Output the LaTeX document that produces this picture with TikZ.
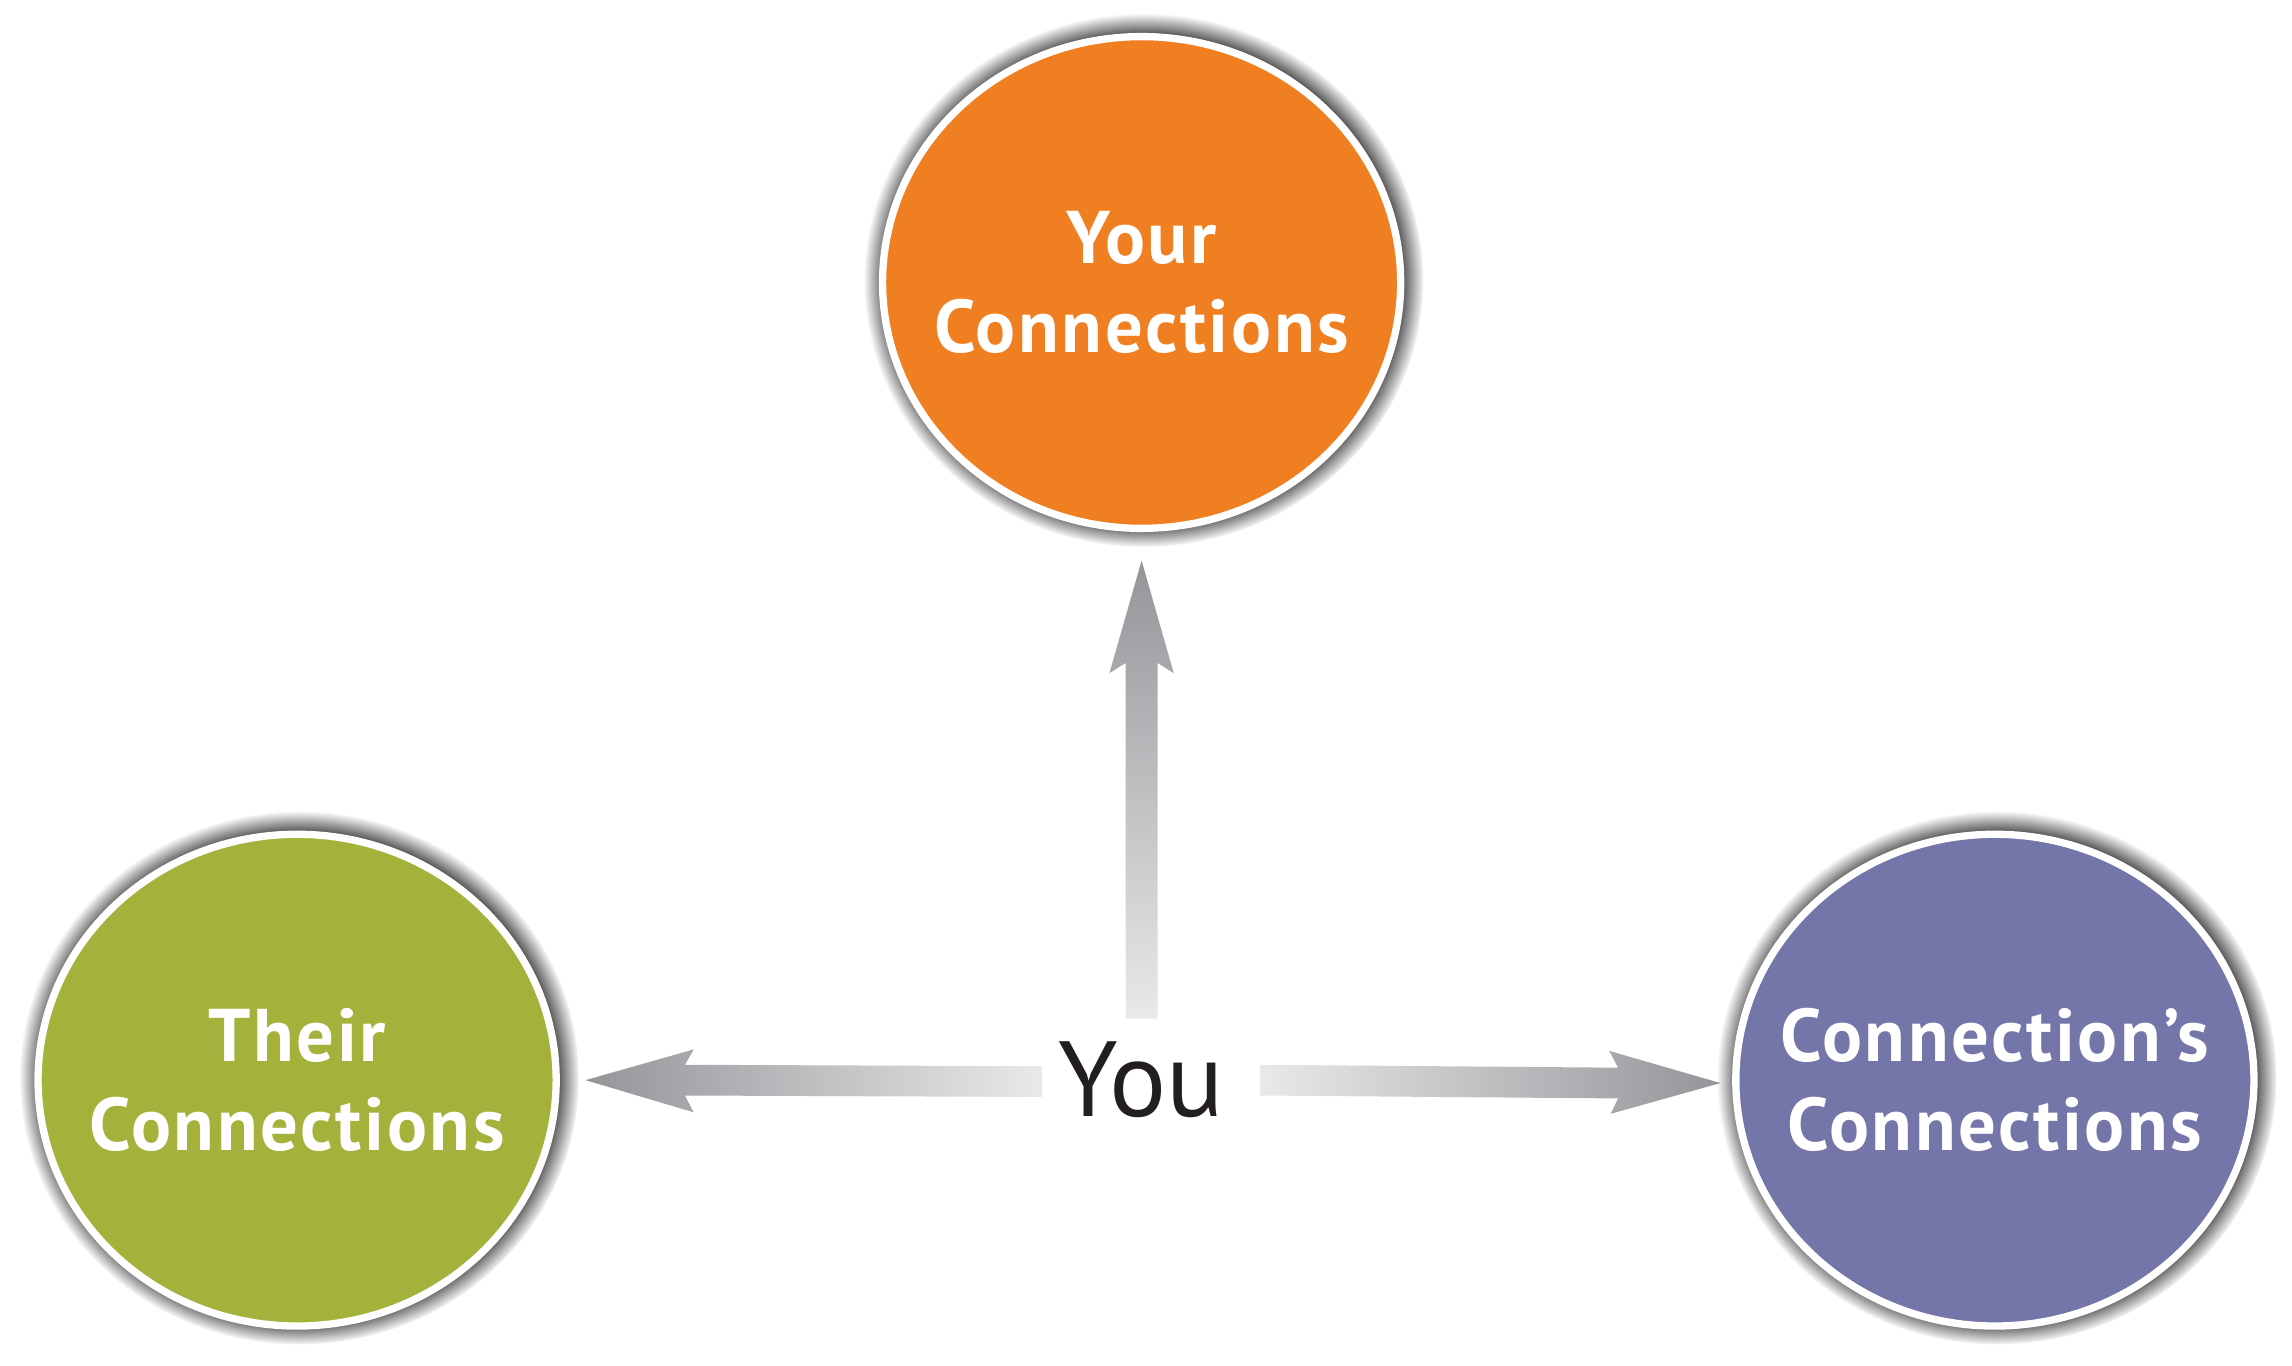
\documentclass[tikz,border=0pt]{standalone}
\usepackage{fontspec}
\setmainfont{PT Sans}
\usetikzlibrary{calc,shapes.geometric,fadings}
\definecolor{corange}{HTML}{F07F22}
\definecolor{cgreen}{HTML}{A4B23B}
\definecolor{cpurple}{HTML}{7475A8}
\definecolor{adark}{HTML}{939598}
\definecolor{alight}{HTML}{E8E9EA}
\definecolor{youink}{HTML}{231F20}
\begin{document}
\begin{tikzpicture}[x=1pt,y=-1pt,
  bubble/.style={ellipse, draw=white, line width=5pt, inner sep=0pt, outer sep=0pt,
    minimum width=354pt, minimum height=336pt},
  glow/.style={ellipse, fill=black!85, draw=none, inner sep=0pt,
    minimum width=382pt, minimum height=364pt,
    path fading=circle with fuzzy edge 10 percent},
  bubbletext/.style={text=white, align=center, inner sep=0pt,
    font=\fontsize{51}{61}\selectfont\bfseries\addfontfeature{LetterSpace=3.5}},
  youlabel/.style={inner sep=0pt, text=youink, font=\fontsize{73}{80}\selectfont},
  arrowbody/.style={draw=none}]
\useasboundingbox (0,0) rectangle (1566,933.3);
% shadows
\node[glow] (topS) at (781.5,191.5) {};
\node[glow] (leftS) at (204.5,736.5) {};
\node[glow] (rightS) at (1364.5,736.5) {};
% circles
\node[bubble, fill=corange] (top) at (780,193) {};
\node[bubble, fill=cgreen] (left) at (203,738) {};
\node[bubble, fill=cpurple] (right) at (1363,738) {};
\node[bubbletext] (topT) at (top.center) {Your\\Connections};
\node[bubbletext] (leftT) at (left.center) {Their\\Connections};
\node[bubbletext] (rightT) at (right.center) {Connection’s\\Connections};
\node[youlabel] (you) at (780,738) {You};
% arrow anchor points
\coordinate (t1) at ($(you.center)+(0,-42)$);
\coordinate (p1) at ($(top.south)+(0,22)$);
\coordinate (t2) at ($(you.center)+(-68,1)$);
\coordinate (p2) at ($(left.east)+(20,0)$);
\coordinate (t3) at ($(you.center)+(81,0)$);
\coordinate (p3) at ($(right.west)+(-10.5,2)$);
% up arrow
\shade[arrowbody, top color=adark, bottom color=alight]
  ($(t1)+(-11,0)$) -- ($(p1)+(-11,70)$) -- ($(p1)+(-22,77)$) -- (p1)
  -- ($(p1)+(22,77)$) -- ($(p1)+(11,70)$) -- ($(t1)+(11,0)$) -- cycle;
% left arrow
\shade[arrowbody, left color=adark, right color=alight]
  ($(t2)+(0,-10.5)$) -- ($(p2)+(68,-10.5)$) -- ($(p2)+(74,-21)$) -- (p2)
  -- ($(p2)+(74,22)$) -- ($(p2)+(68,10.5)$) -- ($(t2)+(0,10.5)$) -- cycle;
% right arrow
\shade[arrowbody, left color=alight, right color=adark]
  ($(t3)+(0,-10.5)$) -- ($(p3)+(-70,-10.5)$) -- ($(p3)+(-76,-22)$) -- (p3)
  -- ($(p3)+(-75,21)$) -- ($(p3)+(-70,10.5)$) -- ($(t3)+(0,10.5)$) -- cycle;
\end{tikzpicture}
\end{document}
